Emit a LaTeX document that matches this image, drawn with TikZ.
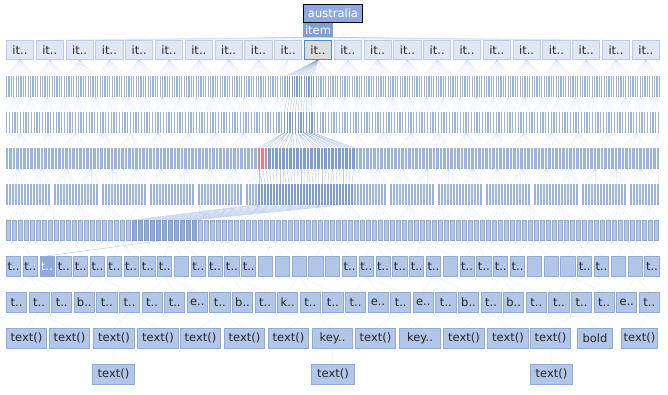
\documentclass[tikz,border=0pt]{standalone}
\usepackage{fontspec}
\setmainfont{DejaVu Sans}
\usetikzlibrary{positioning}
\pgfdeclarelayer{back}
\pgfsetlayers{back,main}

\definecolor{itemfill}{RGB}{223,231,244}
\definecolor{itemline}{RGB}{187,204,232}
\definecolor{barfill}{RGB}{155,180,222}
\definecolor{barhi}{RGB}{124,157,210}
\definecolor{barred}{RGB}{228,126,136}
\definecolor{boxfill}{RGB}{178,198,232}
\definecolor{boxline}{RGB}{143,171,218}
\definecolor{boxhi}{RGB}{143,171,217}
\definecolor{rootfill}{RGB}{142,170,220}
\definecolor{tagfill}{RGB}{127,159,214}
\definecolor{selline}{RGB}{61,143,216}
\definecolor{selfill}{RGB}{220,220,220}
\definecolor{fanline}{RGB}{110,145,210}

\tikzset{
  lbl/.style={font=\fontsize{11.5}{13}\selectfont, text=black!85, inner sep=0pt, outer sep=0pt},
  itembox/.style={lbl, draw=itemline, fill=itemfill, line width=0.8pt, minimum width=27.2pt, minimum height=19.2pt},
  selbox/.style={itembox, draw=selline, fill=selfill},
  bar/.style={fill=barfill, inner sep=0pt, outer sep=0pt, minimum height=21pt},
  hbar/.style={bar, fill=barhi},
  rbar/.style={bar, fill=barred},
  gbar/.style={bar, fill=none},
  sbox/.style={bar, draw=boxline, fill=boxfill, line width=0.8pt, minimum width=4.2pt, minimum height=20.2pt},
  hsbox/.style={sbox, draw=barhi, fill=boxhi},
  tbox/.style={lbl, draw=boxline, fill=boxfill, line width=0.8pt, minimum height=20.2pt},
  htbox/.style={tbox, fill=boxhi, text=white},
  fan/.style={draw=fanline, opacity=0.12, line width=0.5pt},
  hfan/.style={draw=fanline, opacity=0.45, line width=0.5pt}
}

\begin{document}
\begin{tikzpicture}[x=1pt,y=-1pt]
\useasboundingbox (0,0) rectangle (668,394);

% root and tag
\node[lbl, draw=black, line width=1pt, fill=rootfill, text=white, minimum width=59pt, minimum height=18pt] (root) at (333,13.5) {australia};
\node[lbl, fill=tagfill, text=white, minimum width=30pt, minimum height=14pt] (tag) at (318,30) {item};

% level 0
\foreach \i in {0,...,21} {
  \def\st{itembox}
  \ifnum\i=10 \def\st{selbox}\fi
  \node[\st] (r0-\i) at ({20+29.8*\i},50) {it..};
}

% level 1
\foreach \i in {0,...,272} {
  \def\st{bar}
  \ifnum\i>116 \ifnum\i<129 \def\st{hbar}\fi\fi
  \node[\st, minimum width=1.2pt] (r1-\i) at ({6.6+2.4*\i},86) {};
}

% level 2
\foreach \i in {0,...,237} {
  \def\st{bar}
  \ifnum\i>100 \ifnum\i<112 \def\st{hbar}\fi\fi
  \node[\st, minimum width=1.4pt] (r2-\i) at ({6.7+2.75*\i},122) {};
}

% level 3
\foreach \i in {0,...,186} {
  \def\st{bar}
  \ifnum\i>71 \ifnum\i<75 \def\st{rbar}\fi\fi
  \ifnum\i>74 \ifnum\i<100 \def\st{hbar}\fi\fi
  \node[\st, minimum width=2.2pt] (r3-\i) at ({7+3.5*\i},158) {};
}

% level 4
\foreach \i in {0,...,217} {
  \pgfmathtruncatemacro\g{mod(\i,16)}
  \def\st{bar}
  \ifnum\g=15 \def\st{gbar}\fi
  \ifnum\i>83 \ifnum\i<116 \def\st{hbar}\fi\fi
  \node[\st, minimum width=2pt] (r4-\i) at ({7+3*\i},194) {};
}

% level 5
\foreach \i in {0,...,108} {
  \def\st{sbox}
  \ifnum\i>20 \ifnum\i<32 \def\st{hsbox}\fi\fi
  \node[\st] (r5-\i) at ({8.5+6*\i},230) {};
}

% level 6
\foreach \t [count=\n from 0] in {t..,t..,t..,t..,t..,t..,t..,t..,t..,t..,{},t..,t..,t..,t..,{},{},{},{},{},t..,t..,t..,t..,t..,t..,{},t..,t..,t..,t..,{},{},{},t..,t..,{},{},t..} {
  \def\st{tbox}
  \ifnum\n=2 \def\st{htbox}\fi
  \node[\st, minimum width=14.2pt] (r6-\n) at ({13.5+16.8*\n},266) {\t};
}

% level 7
\foreach \t [count=\n from 0] in {t..,t..,t..,b..,t..,t..,t..,t..,e..,t..,b..,t..,k..,t..,t..,t..,e..,t..,e..,t..,b..,t..,b..,t..,t..,t..,t..,e..,t..} {
  \node[tbox, minimum width=20.2pt] (r7-\n) at ({16.5+22.6*\n},302) {\t};
}

% level 8
\foreach \a/\b/\t [count=\n from 0] in {6/47/text(),49/90/text(),93/135/text(),137/179/text(),180/221/text(),224/265/text(),268/309/text(),312/353/key..,355/396/text(),399/441/key..,443/485/text(),487/529/text(),530/571/text(),577/613/bold,621/658/text()} {
  \node[tbox, minimum width={\b-\a-0.8}] (r8-\n) at ({(\a+\b)/2},338) {\t};
}

% level 9
\foreach \a/\b [count=\n from 0] in {92/135,311/355,530/573} {
  \node[tbox, minimum width={\b-\a-0.8}] (r9-\n) at ({(\a+\b)/2},374) {text()};
}

\begin{pgfonlayer}{back}
\foreach \i in {0,...,21} {
  \def\st{fan}
  \ifnum\i=10 \def\st{hfan}\fi
  \draw[\st] (tag.south) -- (r0-\i.north);
}
\foreach \i in {0,...,272} {
  \pgfmathtruncatemacro\p{floor(\i*(22/273))}
  \def\st{fan}
  \ifnum\i>116 \ifnum\i<129 \def\p{10}\def\st{hfan}\fi\fi
  \draw[\st] (r0-\p.south) -- (r1-\i.north);
}
\foreach \i in {0,...,237} {
  \pgfmathtruncatemacro\p{min(272,floor((floor(\i/6)*6+3)*(273/238)))}
  \def\st{fan}
  \ifnum\i>100 \ifnum\i<112 \pgfmathtruncatemacro\p{117+floor((\i-101)*(12/11))}\def\st{hfan}\fi\fi
  \draw[\st] (r1-\p.south) -- (r2-\i.north);
}
\foreach \i in {0,...,186} {
  \pgfmathtruncatemacro\p{min(237,floor((floor(\i/8)*8+4)*(238/187)))}
  \def\st{fan}
  \ifnum\i>71 \ifnum\i<100 \pgfmathtruncatemacro\p{101+floor((\i-72)*(11/28))}\def\st{hfan}\fi\fi
  \draw[\st] (r2-\p.south) -- (r3-\i.north);
}
\foreach \i in {0,...,217} {
  \pgfmathtruncatemacro\p{min(186,floor((floor(\i/8)*8+4)*(187/218)))}
  \def\st{fan}
  \ifnum\i>83 \ifnum\i<116 \pgfmathtruncatemacro\p{72+floor((\i-84)*(28/32))}\def\st{hfan}\fi\fi
  \draw[\st] (r3-\p.south) -- (r4-\i.north);
}
\foreach \i in {0,...,108} {
  \pgfmathtruncatemacro\p{min(217,floor((floor(\i/5)*5+2)*(218/109)))}
  \def\st{fan}
  \ifnum\i>20 \ifnum\i<32 \pgfmathtruncatemacro\p{84+floor((\i-21)*(32/11))}\def\st{hfan}\fi\fi
  \draw[\st] (r4-\p.south) -- (r5-\i.north);
}
\foreach \i in {0,...,38} {
  \pgfmathtruncatemacro\p{min(108,floor((floor(\i/3)*3+1)*(109/39)))}
  \def\st{fan}
  \ifnum\i=2 \def\p{26}\def\st{hfan}\fi
  \draw[\st] (r5-\p.south) -- (r6-\i.north);
}
\foreach \i in {0,...,28} {
  \pgfmathtruncatemacro\p{min(38,floor((floor(\i/3)*3+1)*(39/29)))}
  \draw[fan] (r6-\p.south) -- (r7-\i.north);
}
\foreach \i in {0,...,14} {
  \pgfmathtruncatemacro\p{min(28,floor((floor(\i/2)*2+1)*(29/15)))}
  \draw[fan] (r7-\p.south) -- (r8-\i.north);
}
\foreach \p [count=\n from 0] in {2,7,12} {
  \draw[fan] (r8-\p.south) -- (r9-\n.north);
}
\end{pgfonlayer}
\end{tikzpicture}
\end{document}
